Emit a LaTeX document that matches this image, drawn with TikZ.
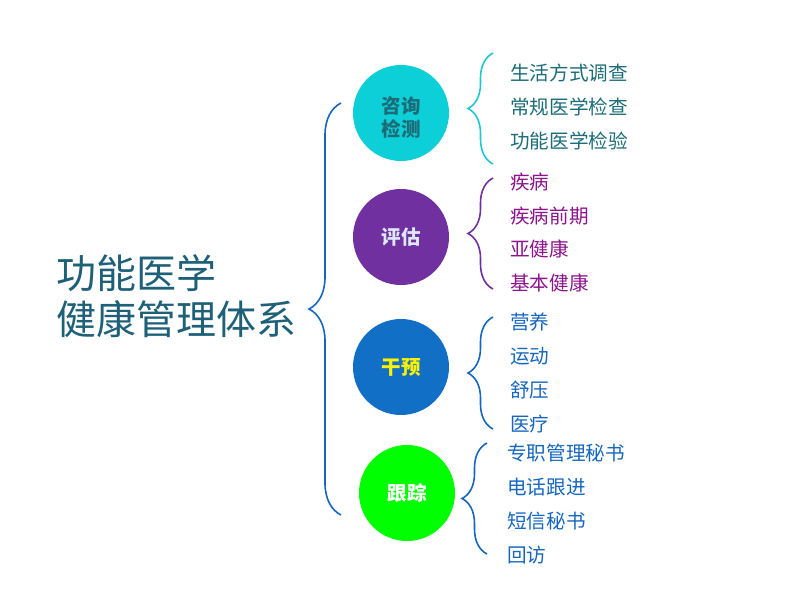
\documentclass[tikz,border=0pt]{standalone}
\usepackage{fontspec}
\setmainfont{Noto Sans CJK SC}
\usetikzlibrary{decorations.pathreplacing}

\definecolor{cyanc}{RGB}{13,207,216}
\definecolor{cyanb}{RGB}{30,200,210}
\definecolor{tealt}{RGB}{28,108,120}
\definecolor{purc}{RGB}{112,48,160}
\definecolor{purt}{RGB}{140,20,140}
\definecolor{palet}{RGB}{220,232,245}
\definecolor{bluec}{RGB}{17,112,197}
\definecolor{bluet}{RGB}{22,102,190}
\definecolor{greenc}{RGB}{0,255,0}
\definecolor{titlec}{RGB}{30,96,120}

\tikzset{
  ball/.style={circle,minimum size=96pt,inner sep=0pt,align=center,
    font=\fontsize{19.5}{23}\selectfont\bfseries},
  item/.style={anchor=west,inner sep=0pt,font=\fontsize{19.6}{23}\selectfont},
  curly/.style={line width=1.6pt,decorate,decoration={brace,amplitude=#1}}
}

\begin{document}
\begin{tikzpicture}[x=1pt,y=-1pt]
\useasboundingbox (0,0) rectangle (802,594);

%% title
\node[anchor=west,align=left,inner sep=0pt,text=titlec,
  font=\fontsize{40}{46}\selectfont] (title) at (56,296) {功能医学\\健康管理体系};

%% big brace
\draw[curly=32pt,color=bluet] (341,515) -- (341,103);

%% circles
\node[ball,fill=cyanc,text=tealt] (c1) at (401,113) {\raisebox{0pt}[25pt]{咨询}\\检测};
\node[ball,fill=purc,text=palet] (c2) at (401,237) {评估};
\node[ball,fill=bluec,text=yellow] (c3) at (401,367) {干预};
\node[ball,fill=greenc,text=white] (c4) at (407,493) {跟踪};

%% small braces
\draw[curly=25pt,color=cyanb] (493,164) -- (493,53);
\draw[curly=25pt,color=purc] (493,289) -- (493,178);
\draw[curly=25pt,color=bluet] (493,429) -- (493,317);
\draw[curly=25pt,color=bluet] (487,554) -- (487,443);

%% items
\node[item,text=tealt] (a1) at (510,73) {生活方式调查};
\node[item,text=tealt] (a2) at (510,107) {常规医学检查};
\node[item,text=tealt] (a3) at (510,141) {功能医学检验};

\node[item,text=purt] (b1) at (510,182) {疾病};
\node[item,text=purt] (b2) at (510,216) {疾病前期};
\node[item,text=purt] (b3) at (510,249) {亚健康};
\node[item,text=purt] (b4) at (510,283) {基本健康};

\node[item,text=bluet] (d1) at (510,322) {营养};
\node[item,text=bluet] (d2) at (510,356) {运动};
\node[item,text=bluet] (d3) at (510,390) {舒压};
\node[item,text=bluet] (d4) at (510,424) {医疗};

\node[item,text=bluet] (e1) at (507,453) {专职管理秘书};
\node[item,text=bluet] (e2) at (507,487) {电话跟进};
\node[item,text=bluet] (e3) at (507,521) {短信秘书};
\node[item,text=bluet] (e4) at (507,555) {回访};

\end{tikzpicture}
\end{document}
